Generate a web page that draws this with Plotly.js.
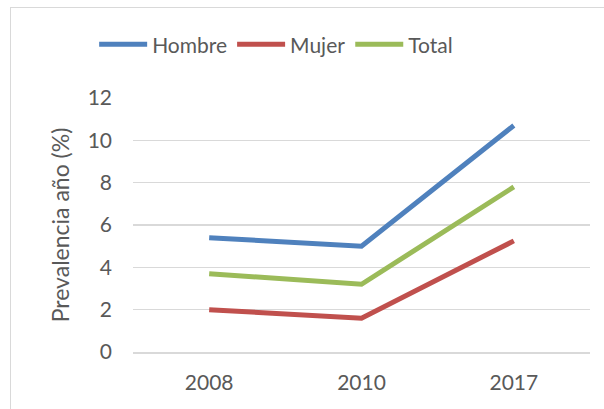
<!DOCTYPE html>
<html><head><meta charset="utf-8">
<script src="https://cdn.plot.ly/plotly-3.0.1.min.js"></script>
<style>
html,body{margin:0;padding:0;background:#fff;}
#wrap{position:relative;width:604px;height:409px;overflow:hidden;}
#chart{position:absolute;left:0;top:0;width:604px;height:409px;}
#frame{position:absolute;left:10px;top:7px;width:640px;height:440px;border:1px solid #d9d9d9;pointer-events:none;}
</style></head>
<body><div id="wrap"><div id="chart"></div><div id="frame"></div></div>
<script>
const years = ['2008', '2010', '2017'];
const hombre = [5.4, 5.0, 10.7];
const mujer = [2.0, 1.6, 5.25];
const total = [3.7, 3.2, 7.8];
const seriesNames = ['Hombre', 'Mujer', 'Total'];
const colors = ['#4f81bd', '#c0504d', '#9bbb59'];
const yTicks = [0, 2, 4, 6, 8, 10, 12];

const font = 'Lato, "Open Sans", sans-serif';
const data = [hombre, mujer, total].map((v, i) => ({
  type: 'scatter', mode: 'lines', x: years, y: v, name: seriesNames[i],
  line: {color: colors[i], width: 5}
}));
const layout = {
  width: 604, height: 409,
  margin: {l: 133, r: 14, t: 98, b: 57},
  paper_bgcolor: '#fff', plot_bgcolor: '#fff',
  font: {family: font, color: '#595959'},
  showlegend: true,
  legend: {orientation: 'h', x: -0.085, xanchor: 'left', y: 1.21, yanchor: 'middle',
    font: {size: 21, color: '#595959'}, itemwidth: 48, tracegroupgap: 0},
  xaxis: {type: 'category', tickfont: {size: 21}, showgrid: false, zeroline: false,
    showline: true, linecolor: '#d9d9d9', linewidth: 1.5, ticks: '', ticklabelstandoff: 11,
    range: [-0.5, 2.5]},
  yaxis: {range: [0, 12], tickvals: yTicks, ticktext: yTicks.map(String),
    tickfont: {size: 21}, showgrid: true, gridcolor: '#d9d9d9', gridwidth: 1.5,
    zeroline: false, showline: false, ticks: '', ticklabelstandoff: 20,
    title: {text: 'Prevalencia año (%)', font: {size: 23, color: '#595959'}, standoff: 11}}
};
Plotly.newPlot('chart', data, layout, {displayModeBar: false, staticPlot: true});
</script></body></html>
